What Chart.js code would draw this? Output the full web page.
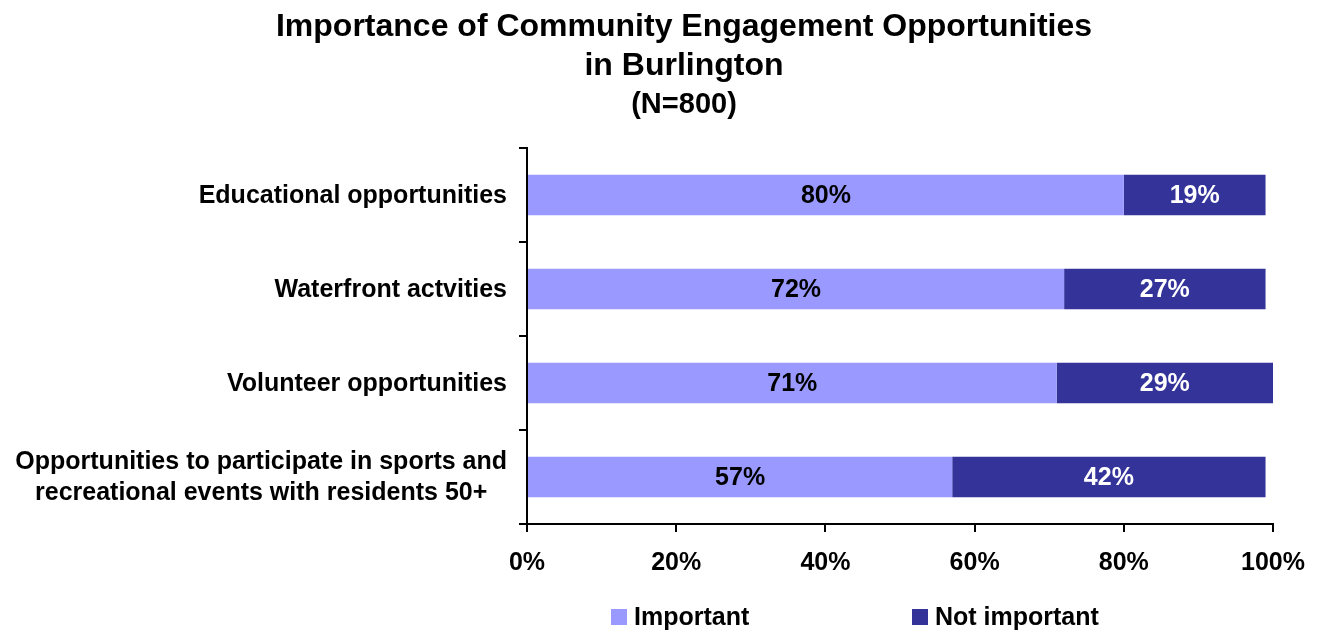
<!DOCTYPE html>
<html>
<head>
<meta charset="utf-8">
<script src="https://cdn.jsdelivr.net/npm/chart.js@4/dist/chart.umd.min.js"></script>
<style>
  body { margin: 0; background: #fff; }
  canvas { display: block; }
</style>
</head>
<body>
<canvas id="chart" width="1321" height="632"></canvas>
<script>
const titleLines = ["Importance of Community Engagement Opportunities", "in Burlington", "(N=800)"];
const categories = [
  "Educational opportunities",
  "Waterfront actvities",
  "Volunteer opportunities",
  ["Opportunities to participate in sports and", "recreational events with residents 50+"]
];
const important = [80, 72, 71, 57];
const notImportant = [19, 27, 29, 42];
const tickLabels = ["0%", "20%", "40%", "60%", "80%", "100%"];

const FONT = 'Arial, "Liberation Sans", sans-serif';

// title is centred a bit right of the canvas middle, so draw it by hand
const titleY = [27, 66, 105];
const titleSize = [32, 32, 29];
const chartTitle = {
  id: "chartTitle",
  afterDraw(chart) {
    const c = chart.ctx;
    c.save();
    c.fillStyle = "#000";
    c.textAlign = "center";
    c.textBaseline = "middle";
    titleLines.forEach((t, i) => {
      c.font = "bold " + titleSize[i] + "px " + FONT;
      c.fillText(t, 684, titleY[i]);
    });
    c.restore();
  }
};

// category labels: block right-aligned to the axis, lines centred inside it
const categoryLabels = {
  id: "categoryLabels",
  afterDraw(chart) {
    const c = chart.ctx;
    const y = chart.scales.y;
    const right = y.right - 20;
    c.save();
    c.font = "bold 25px " + FONT;
    c.fillStyle = "#000";
    c.textAlign = "center";
    c.textBaseline = "middle";
    chart.data.labels.forEach((lab, i) => {
      const lines = Array.isArray(lab) ? lab : [lab];
      const w = Math.max(...lines.map(l => c.measureText(l).width));
      const py = y.getPixelForValue(i);
      lines.forEach((l, k) => {
        c.fillText(l, right - w / 2, py + 1 + (k - (lines.length - 1) / 2) * 31);
      });
    });
    c.restore();
  }
};

// value labels in the middle of each bar piece
const valueLabels = {
  id: "valueLabels",
  afterDatasetsDraw(chart) {
    const c = chart.ctx;
    c.save();
    c.font = "bold 25px " + FONT;
    c.textAlign = "center";
    c.textBaseline = "middle";
    chart.data.datasets.forEach((ds, i) => {
      chart.getDatasetMeta(i).data.forEach((bar, j) => {
        const p = bar.getCenterPoint();
        c.fillStyle = ds.labelColor;
        c.fillText(ds.data[j] + "%", p.x, p.y + 1);
      });
    });
    c.restore();
  }
};

// legend spaced like the original
const legendX = [611, 912];
const bottomLegend = {
  id: "bottomLegend",
  afterDraw(chart) {
    const c = chart.ctx;
    c.save();
    c.font = "bold 25px " + FONT;
    c.textBaseline = "middle";
    c.textAlign = "left";
    chart.data.datasets.forEach((ds, i) => {
      c.fillStyle = ds.backgroundColor;
      c.fillRect(legendX[i], 609, 16, 16);
      c.fillStyle = "#000";
      c.fillText(ds.label, legendX[i] + 23, 618);
    });
    c.restore();
  }
};

new Chart(document.getElementById("chart"), {
  type: "bar",
  data: {
    labels: categories,
    datasets: [
      { label: "Important", data: important, backgroundColor: "#9999FF", labelColor: "#000" },
      { label: "Not important", data: notImportant, backgroundColor: "#333399", labelColor: "#fff" }
    ]
  },
  options: {
    indexAxis: "y",
    responsive: false,
    devicePixelRatio: 1,
    animation: false,
    layout: { padding: { left: 0, right: 48, top: 148, bottom: 48 } },
    datasets: { bar: { categoryPercentage: 1, barPercentage: 0.43 } },
    scales: {
      x: {
        stacked: true,
        min: 0,
        max: 100,
        afterFit: s => { s.height = 60; },
        ticks: {
          stepSize: 20,
          padding: 16,
          color: "#000",
          font: { family: FONT, size: 25, weight: "bold" },
          callback: (v, i) => tickLabels[i]
        },
        grid: { drawOnChartArea: false, tickLength: 8, color: "#000", lineWidth: 2 },
        border: { color: "#000", width: 2 }
      },
      y: {
        stacked: true,
        afterFit: s => { s.width = 527; },
        ticks: { display: false },
        grid: { offset: true, drawOnChartArea: false, tickLength: 8, color: "#000", lineWidth: 2 },
        border: { color: "#000", width: 2 }
      }
    },
    plugins: {
      legend: { display: false },
      tooltip: { enabled: false },
      title: { display: false }
    }
  },
  plugins: [chartTitle, categoryLabels, valueLabels, bottomLegend]
});
</script>
</body>
</html>
